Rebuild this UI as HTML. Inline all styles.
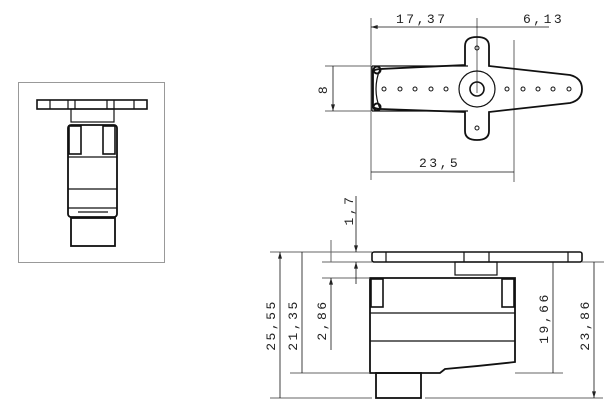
<!DOCTYPE html>
<html><head><style>body{margin:0;background:#fff}svg{display:block}text{font-family:"Liberation Mono",monospace;font-size:13px;fill:#222;letter-spacing:2.5px}</style></head><body>
<svg width="616" height="415" viewBox="0 0 616 415" xmlns="http://www.w3.org/2000/svg">
<defs><marker id="a" viewBox="0 0 10 6" refX="10" refY="3" markerWidth="9" markerHeight="5" orient="auto-start-reverse"><path d="M0,0L10,3L0,6z" fill="#222"/></marker></defs>
<g fill="none" stroke="#111" stroke-width="1.2">
<!-- left panel -->
<rect x="18.5" y="82.5" width="146" height="180" stroke="#999" stroke-width="1"/>
<rect x="37" y="100" width="110" height="9" stroke-width="1.6"/>
<path d="M50 100v9M68 100v9M75 100v9M107 100v9M114 100v9M134 100v9"/>
<rect x="71" y="109" width="43" height="13"/>
<rect x="68" y="125" width="49" height="92" rx="3" stroke-width="1.8"/>
<rect x="69" y="126" width="12" height="28" stroke-width="1.6"/><rect x="103" y="126" width="12" height="28" stroke-width="1.6"/>
<path d="M68 157h49M68 189h49M68 208h49M78 212h30"/>
<rect x="71" y="218" width="44" height="28" stroke-width="1.8"/>
<!-- top view dims -->
<g stroke="#666" stroke-width="1"><path d="M371 18v162M514 40v142M477 18v75M325 66h46M325 111h46"/></g>
<path d="M371 27h106M477 27h37M514 27h35M371 172h143M333 66v45" marker-start="url(#a)" marker-end="url(#a)" stroke-width="0.8"/>
<!-- horn -->
<path d="M373 73 Q371 70 380 69 L465 65 L465 46 Q465 37 477 37 Q489 37 489 46 L489 66 L570 75 Q582 78 582 89 Q582 100 570 103 L489 112 L489 131 Q489 140 477 140 Q465 140 465 131 L465 112 L380 109 Q371 108 373 105 Z" stroke-width="1.8"/>
<path d="M372 66h96M372 111h96M372 66v45M380 69 Q372 89 380 109"/>
<circle cx="377" cy="70" r="3.5" stroke-width="2"/><circle cx="377" cy="107" r="3.5" stroke-width="2"/>
<circle cx="477" cy="89" r="18"/><circle cx="477" cy="89" r="7" stroke-width="1.6"/>
<g stroke-width="1"><circle cx="384" cy="89" r="2"/><circle cx="400" cy="89" r="2"/><circle cx="415" cy="89" r="2"/><circle cx="431" cy="89" r="2"/><circle cx="446" cy="89" r="2"/><circle cx="507" cy="89" r="2"/><circle cx="523" cy="89" r="2"/><circle cx="538" cy="89" r="2"/><circle cx="553" cy="89" r="2"/><circle cx="569" cy="89" r="2"/><circle cx="477" cy="48" r="2"/><circle cx="477" cy="128" r="2"/></g>
<!-- side view -->
<rect x="372" y="252" width="210" height="10" rx="2" stroke-width="1.6"/>
<path d="M386 252v10M464 252v10M489 252v10M568 252v10"/>
<rect x="455" y="262" width="42" height="13"/>
<path d="M370 278h145v84 Q480 366 445 369 L440 373 H370Z" stroke-width="1.8"/>
<rect x="371" y="279" width="12" height="28" stroke-width="1.6"/><rect x="502" y="279" width="12" height="28" stroke-width="1.6"/>
<path d="M370 313h145M370 341h145"/>
<rect x="376" y="373" width="45" height="25" stroke-width="1.8"/>
<g stroke="#666" stroke-width="1"><path d="M270 252h102M270 398h102M290 373h80M322 262h50M322 278h48M425 398h178M582 262h22M515 373h48M331 240v22"/></g>
<path d="M280 252v146M302 252v121M553 262v111M594 262v136" marker-start="url(#a)" marker-end="url(#a)" stroke-width="0.8"/>
<path d="M331 350v-72" marker-end="url(#a)" stroke-width="0.8"/>
<path d="M356 196v56" marker-end="url(#a)" stroke-width="0.8"/>
<path d="M356 284v-22" marker-end="url(#a)" stroke-width="0.8"/>
</g>
<text x="396" y="23">17,37</text><text x="523" y="23">6,13</text><text x="419" y="167">23,5</text>
<text transform="translate(327,89) rotate(-90)" text-anchor="middle">8</text>
<text transform="translate(275,325) rotate(-90)" text-anchor="middle">25,55</text>
<text transform="translate(297,325) rotate(-90)" text-anchor="middle">21,35</text>
<text transform="translate(326,320) rotate(-90)" text-anchor="middle">2,86</text>
<text transform="translate(353,210) rotate(-90)" text-anchor="middle">1,7</text>
<text transform="translate(548,318) rotate(-90)" text-anchor="middle">19,66</text>
<text transform="translate(589,325) rotate(-90)" text-anchor="middle">23,86</text>
</svg>
</body></html>
